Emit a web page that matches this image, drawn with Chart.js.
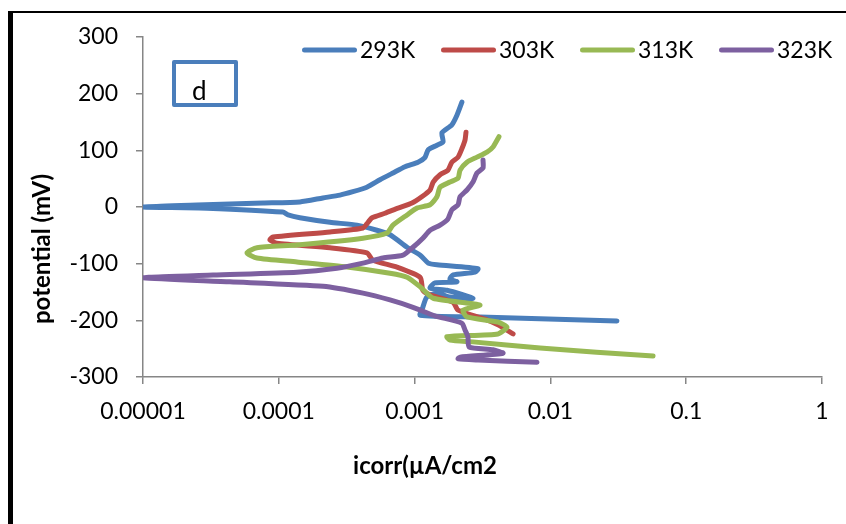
<!DOCTYPE html>
<html>
<head>
<meta charset="utf-8">
<script src="https://cdn.jsdelivr.net/npm/chart.js@4.4.0/dist/chart.umd.min.js"></script>
<style>
html, body { margin: 0; padding: 0; background: #fff; overflow: hidden; }
#wrap { position: relative; width: 846px; height: 524px; }
#frame { position: absolute; left: 8px; top: 11px; width: 900px; height: 600px; border-left: 5px solid #000; border-top: 2.5px solid #000; }
canvas { position: absolute; left: 0; top: 0; }
</style>
</head>
<body>
<div id="wrap"><div id="frame"></div><canvas id="chart" width="846" height="524"></canvas></div>
<script>
const seriesNames = ['293K', '303K', '313K', '323K'];

const x293 = [0.00223, 0.00205, 0.00188, 0.00159, 0.00162, 0.00146, 0.00126, 0.00119, 0.00106, 0.00085, 0.000693, 0.000556, 0.000445, 0.000351, 0.000282, 0.000211, 0.000143, 0.0000765, 0.000025, 0.00001, 0.0000296, 0.000107, 0.000117, 0.000143, 0.000238, 0.000377, 0.000528, 0.00066, 0.00088, 0.0011, 0.00126, 0.00146, 0.00293, 0.00279, 0.00192, 0.00182, 0.00205, 0.00141, 0.0013, 0.00173, 0.00269, 0.00182, 0.00146, 0.00123, 0.00115, 0.0011, 0.00303, 0.0309];
const y293 = [185, 162, 145, 131, 115, 109, 101, 87, 79, 71, 60, 48, 35, 27, 21, 16, 9, 7, 3.5, 0, -2, -9, -14, -19, -27, -32, -41, -49, -71, -85, -99, -102, -109, -115, -120, -127, -132, -134, -143, -147, -161, -159, -152, -159, -177, -191, -194, -201];

const x303 = [0.00239, 0.00235, 0.00224, 0.00209, 0.00188, 0.00176, 0.00154, 0.00137, 0.0013, 0.00113, 0.000957, 0.000755, 0.000605, 0.000486, 0.000454, 0.000417, 0.000238, 0.0000906, 0.000086, 0.000097, 0.000238, 0.000446, 0.000494, 0.000742, 0.0011, 0.00115, 0.0013, 0.00192, 0.00209, 0.0033, 0.00411, 0.00531];
const y303 = [132, 118, 104, 88, 79, 65, 57, 44, 30, 18, 7, -2, -11, -19, -27, -37, -44, -53, -58, -64, -72, -81, -94, -106, -124, -147, -155, -168, -182, -198, -208, -224];

const x313 = [0.00418, 0.00378, 0.00341, 0.00288, 0.00243, 0.00216, 0.00209, 0.00182, 0.00154, 0.00146, 0.0013, 0.00104, 0.00088, 0.000693, 0.000626, 0.000417, 0.000136, 0.000069, 0.0000583, 0.000069, 0.000136, 0.000318, 0.000659, 0.00088, 0.0011, 0.00137, 0.00303, 0.00227, 0.00243, 0.00411, 0.00479, 0.00411, 0.00173, 0.00182, 0.00269, 0.0084, 0.057];
const y313 = [124, 106, 97, 88, 79, 65, 51, 44, 35, 18, 4, -2, -14, -32, -46, -55, -67, -72, -81, -90, -97, -106, -117, -124, -141, -161, -173, -182, -194, -203, -212, -224, -229, -235, -238, -249, -263];

const x323 = [0.00319, 0.00319, 0.00288, 0.00269, 0.00243, 0.00216, 0.00209, 0.00188, 0.00176, 0.00154, 0.0013, 0.00115, 0.000973, 0.000822, 0.000585, 0.000417, 0.000268, 0.000136, 0.0000328, 0.00001, 0.0000437, 0.000212, 0.000417, 0.000659, 0.000973, 0.00141, 0.00223, 0.00235, 0.00247, 0.00252, 0.00378, 0.00448, 0.00216, 0.00209, 0.00293, 0.00797];
const y323 = [83, 69, 60, 44, 30, 18, 4, -5, -21, -32, -41, -55, -71, -85, -90, -99, -108, -115, -120, -125, -132, -140, -152, -164, -177, -192, -205, -217, -229, -247, -252, -258, -265, -268, -270, -274];

const xTicks = [0.00001, 0.0001, 0.001, 0.01, 0.1, 1];
const xTickLabels = ['0.00001', '0.0001', '0.001', '0.01', '0.1', '1'];
const yTicks = [-300, -200, -100, 0, 100, 200, 300];

const xTitle = 'icorr(µA/cm2';
const yTitle = 'potential (mV)';
const boxLabel = 'd';

const colors = ['#4a7ebb', '#be4b48', '#98b954', '#7d60a0'];
const FONT = 'Lato, "Open Sans", sans-serif';

function pairs(xs, ys) {
    return xs.map((x, i) => ({ x: x, y: ys[i] }));
}

const seriesData = [pairs(x293, y293), pairs(x303, y303), pairs(x313, y313), pairs(x323, y323)];

const datasets = seriesNames.map(function(name, i) {
    return {
        label: name,
        data: seriesData[i],
        showLine: true,
        borderColor: colors[i],
        backgroundColor: colors[i],
        borderWidth: 5,
        borderCapStyle: 'round',
        borderJoinStyle: 'round',
        pointRadius: 0,
        tension: 0.2,
        order: seriesNames.length - i
    };
});

// legend, text box and axis titles drawn by hand to sit where Excel put them
const extras = {
    id: 'extras',
    afterDraw(chart) {
        const ctx = chart.ctx;
        ctx.save();

        ctx.strokeStyle = '#4a7ebb';
        ctx.lineWidth = 4;
        ctx.lineJoin = 'round';
        ctx.strokeRect(174, 62, 62, 43);
        ctx.fillStyle = '#000';
        ctx.font = '26px ' + FONT;
        ctx.textAlign = 'left';
        ctx.textBaseline = 'alphabetic';
        ctx.fillText(boxLabel, 192, 100);

        ctx.font = '23px ' + FONT;
        let lx = 302;
        chart.data.datasets.forEach(function(ds) {
            ctx.strokeStyle = ds.borderColor;
            ctx.lineWidth = 5;
            ctx.lineCap = 'round';
            ctx.beginPath();
            ctx.moveTo(lx + 2.5, 50);
            ctx.lineTo(lx + 52.5, 50);
            ctx.stroke();
            ctx.fillStyle = '#000';
            ctx.textBaseline = 'middle';
            ctx.fillText(ds.label, lx + 58, 51);
            lx += 139;
        });

        ctx.font = 'bold 24px ' + FONT;
        ctx.textAlign = 'center';
        ctx.textBaseline = 'middle';
        ctx.fillText(xTitle, 425, 466);

        ctx.translate(42, 249);
        ctx.rotate(-Math.PI / 2);
        ctx.fillText(yTitle, 0, 0);
        ctx.restore();
    }
};

new Chart(document.getElementById('chart'), {
    type: 'scatter',
    data: { datasets: datasets },
    options: {
        responsive: false,
        animation: false,
        layout: { padding: { left: 0, top: 37, right: 24, bottom: 0 } },
        plugins: {
            legend: { display: false },
            tooltip: { enabled: false }
        },
        scales: {
            x: {
                type: 'logarithmic',
                min: 0.00001,
                max: 1,
                afterFit: function(scale) { scale.height = 147; },
                afterBuildTicks: function(scale) {
                    scale.ticks = xTicks.map(v => ({ value: v }));
                },
                ticks: {
                    color: '#000',
                    font: { family: FONT, size: 23 },
                    padding: 14,
                    autoSkip: false,
                    maxRotation: 0,
                    callback: function(value) {
                        const i = xTicks.indexOf(value);
                        return i >= 0 ? xTickLabels[i] : '';
                    }
                },
                grid: { drawOnChartArea: false, drawTicks: true, tickLength: 7, color: '#868686', lineWidth: 1.5 },
                border: { display: true, color: '#868686', width: 1.5 }
            },
            y: {
                min: -300,
                max: 300,
                afterFit: function(scale) { scale.width = 143; },
                afterBuildTicks: function(scale) {
                    scale.ticks = yTicks.map(v => ({ value: v }));
                },
                ticks: {
                    color: '#000',
                    font: { family: FONT, size: 23 },
                    padding: 18,
                    callback: function(value) { return String(value); }
                },
                grid: { drawOnChartArea: false, drawTicks: true, tickLength: 7, color: '#868686', lineWidth: 1.5 },
                border: { display: true, color: '#868686', width: 1.5 }
            }
        }
    },
    plugins: [extras]
});
</script>
</body>
</html>
